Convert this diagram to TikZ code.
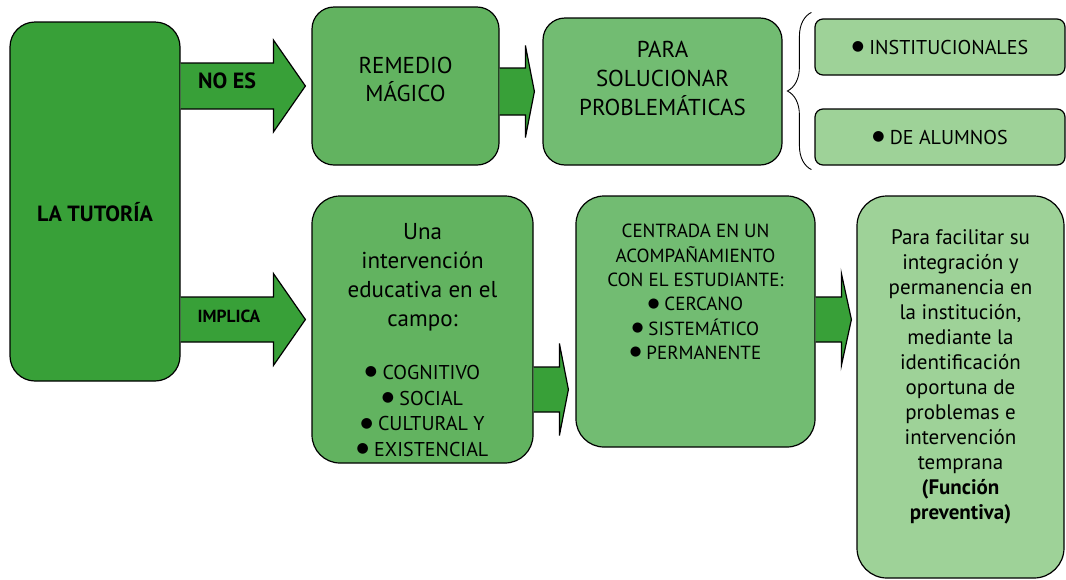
\documentclass[tikz,border=0pt]{standalone}
\usepackage{fontspec}
\usepackage{graphicx}
\setmainfont{PT Sans}
\newfontfamily\simbolos{DejaVu Sans}
\usetikzlibrary{calc,decorations.pathreplacing}

\definecolor{verdeosc}{RGB}{56,160,56}
\definecolor{verdemed}{RGB}{98,179,96}
\definecolor{verdecla}{RGB}{114,188,114}
\definecolor{verdepal}{RGB}{158,210,152}

\newcommand{\pto}{{\simbolos\raisebox{.18em}{\scalebox{.7}{●}}}}
% flecha gruesa: #1 origen (x), #2 punta, #3 medio cuerpo, #4 media cabeza, #5 largo cabeza
\newcommand{\flecha}[5]{%
\draw[flechaverde] (#1|-#2) ++(0,-#3) -- ($(#2)+(-#5,-#3)$) -- ($(#2)+(-#5,-#4)$) -- (#2)
 -- ($(#2)+(-#5,#4)$) -- ($(#2)+(-#5,#3)$) -- ($(#1|-#2)+(0,#3)$);}

\begin{document}
\begin{tikzpicture}[x=1pt,y=-1pt,
 caja/.style={draw=black, line width=1.2pt, inner sep=0pt, rounded corners=22pt},
 chica/.style={caja, rounded corners=8pt, minimum width=250pt, minimum height=56pt,
  fill=verdepal, font=\fontsize{20}{24}\selectfont},
 texto/.style={align=center, inner sep=0pt},
 flechaverde/.style={draw=black, line width=1.2pt, fill=verdeosc, line join=miter},
 llave/.style={decorate, decoration={brace, amplitude=24pt}, line width=.9pt}]
\useasboundingbox (0,0) rectangle (1066,579);

% cajas
\node[caja, fill=verdeosc, rounded corners=25pt, minimum width=170pt, minimum height=359pt] (tut) at (95,201.5) {};
\node[caja, fill=verdemed, minimum width=187pt, minimum height=158pt] (remedio) at (405.5,86) {};
\node[caja, fill=verdecla, minimum width=239pt, minimum height=147pt] (para) at (662.5,91.5) {};
\node[chica] (inst) at (940,47) {\pto{} INSTITUCIONALES};
\node[chica] (alum) at (940,137) {\pto{} DE ALUMNOS};
\node[caja, fill=verdemed, rounded corners=28pt, minimum width=221pt, minimum height=267pt] (una) at (422.5,329.5) {};
\node[caja, fill=verdecla, rounded corners=28pt, minimum width=239pt, minimum height=251pt] (centrada) at (695.5,321.5) {};
\node[caja, fill=verdepal, rounded corners=30pt, minimum width=207pt, minimum height=382pt] (facil) at (960.5,387) {};

% textos
\node[texto, font=\fontsize{22}{26}\selectfont\bfseries] (tutT) at (95,212) {LA TUTORÍA};
\node[texto, font=\fontsize{23}{28}\selectfont] (remedioT) at (405.5,79) {REMEDIO\\MÁGICO};
\node[texto, font=\fontsize{23}{29}\selectfont] (paraT) at (662.5,78.5) {PARA\\SOLUCIONAR\\PROBLEMÁTICAS};
\node[texto, font=\fontsize{23}{29}\selectfont] (unaT) at (422.5,277) {Una\\intervención\\educativa en el\\campo:};
\node[texto, font=\fontsize{20}{25.7}\selectfont] (unaL) at (422.5,411) {\pto{} COGNITIVO\\\pto{} SOCIAL\\\pto{} CULTURAL Y\\\pto{} EXISTENCIAL};
\node[texto, font=\fontsize{19}{24.3}\selectfont] (centradaT) at (695.5,292)
 {CENTRADA EN UN\\ACOMPAÑAMIENTO\\CON EL ESTUDIANTE:\\\pto{} CERCANO\\\pto{} SISTEMÁTICO\\\pto{} PERMANENTE};
\node[texto, font=\fontsize{21}{25}\selectfont] (facilT) at (960.5,377)
 {Para facilitar su\\integración y\\permanencia en\\la institución,\\mediante la\\identificación\\oportuna de\\problemas e\\intervención\\temprana\\\textbf{(Función}\\\textbf{preventiva)}};

% flechas
\coordinate (p1) at ($(remedio.west)+(-6,0)$);
\coordinate (p2) at ($(una.west)+(-6,-10)$);
\coordinate (p3) at ($(para.west)+(-8,0)$);
\coordinate (p4) at ($(centrada.west)+(-7,68)$);
\coordinate (p5) at ($(facil.west)+(-5,-67.5)$);
\flecha{tut.east}{p1}{23}{46}{32}
\flecha{tut.east}{p2}{22.5}{46}{32}
\flecha{remedio.east}{p3}{23.5}{46}{9}
\flecha{una.east}{p4}{22.5}{46}{9}
\flecha{centrada.east}{p5}{22.5}{46}{10}
\node[texto, font=\fontsize{22}{26}\selectfont\bfseries] (noes) at (227,81) {NO ES};
\node[texto, font=\fontsize{17.5}{21}\selectfont\bfseries] (implica) at (229,316.5) {IMPLICA};

% llave
\draw[llave] ($(alum.south west)+(-3,4)$) -- ($(inst.north west)+(-3,-6)$);
\end{tikzpicture}
\end{document}
